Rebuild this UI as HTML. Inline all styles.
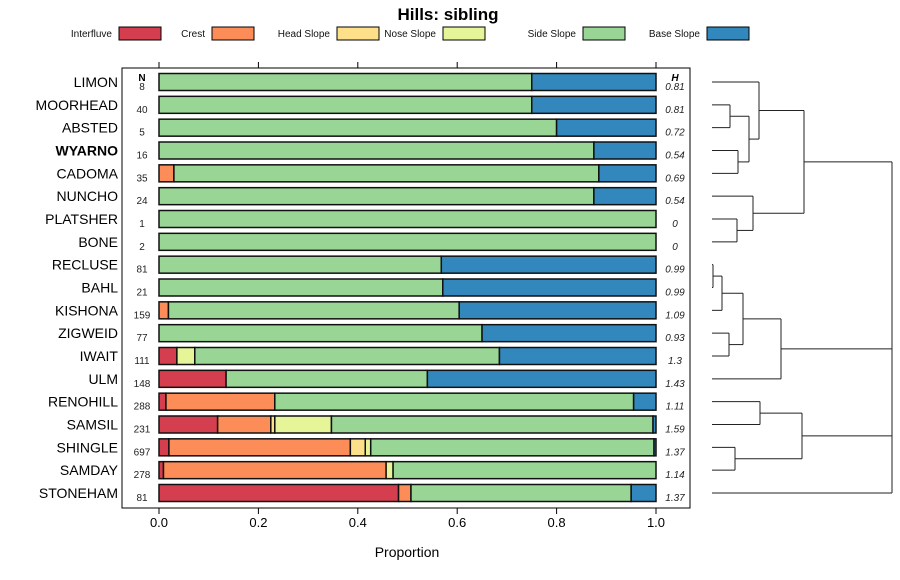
<!DOCTYPE html>
<html><head><meta charset="utf-8">
<style>
body{margin:0;background:#fff;}
svg{display:block;font-family:"Liberation Sans",sans-serif;}
</style></head>
<body>
<svg id="chart" width="900" height="580" viewBox="0 0 900 580">
<text x="448" y="20" text-anchor="middle" font-size="17" font-weight="bold">Hills: sibling</text>
<g id="legend"></g>
<rect x="122" y="68" width="568" height="440" fill="none" stroke="#000" stroke-width="1"/>
<g id="bars"></g>
<g id="axis"></g>
<g id="dendro"></g>
<text x="407" y="557" text-anchor="middle" font-size="14">Proportion</text>
<text x="142" y="81" text-anchor="middle" font-size="10" font-weight="bold">N</text>
<text x="675" y="81" text-anchor="middle" font-size="10" font-weight="bold" font-style="italic">H</text>
</svg>
<script>
const categories = ["LIMON","MOORHEAD","ABSTED","WYARNO","CADOMA","NUNCHO","PLATSHER","BONE","RECLUSE","BAHL","KISHONA","ZIGWEID","IWAIT","ULM","RENOHILL","SAMSIL","SHINGLE","SAMDAY","STONEHAM"];
const seriesNames = ["Interfluve","Crest","Head Slope","Nose Slope","Side Slope","Base Slope"];
const interfluve = [0,0,0,0,0,0,0,0,0,0,0,0,0.036,0.135,0.014,0.118,0.02,0.009,0.482];
const crest      = [0,0,0,0,0.03,0,0,0,0,0,0.019,0,0,0,0.219,0.107,0.365,0.448,0.025];
const headSlope  = [0,0,0,0,0,0,0,0,0,0,0,0,0,0,0,0.008,0.03,0,0];
const noseSlope  = [0,0,0,0,0,0,0,0,0,0,0,0,0.036,0,0,0.114,0.011,0.014,0];
const sideSlope  = [0.75,0.75,0.8,0.875,0.855,0.875,1,1,0.568,0.571,0.585,0.65,0.613,0.405,0.722,0.647,0.57,0.529,0.443];
const baseSlope  = [0.25,0.25,0.2,0.125,0.115,0.125,0,0,0.432,0.429,0.396,0.35,0.315,0.46,0.045,0.006,0.004,0,0.05];
const nValues = [8,40,5,16,35,24,1,2,81,21,159,77,111,148,288,231,697,278,81];
const hValues = ["0.81","0.81","0.72","0.54","0.69","0.54","0","0","0.99","0.99","1.09","0.93","1.3","1.43","1.11","1.59","1.37","1.14","1.37"];
const xTicks = [0,0.2,0.4,0.6,0.8,1];
const xTickLabels = ["0.0","0.2","0.4","0.6","0.8","1.0"];
const colors = ["#D53E4F","#FC8D59","#FEE08B","#E6F598","#99D594","#3288BD"];
const merges = [
 [1,2,730],[3,4,738],["n0","n1",749],[0,"n2",759],
 [6,7,737],[5,"n4",753],["n3","n5",804],
 [8,9,713],["n7",10,722],[11,12,729],["n8","n9",743],["n10",13,781],
 [14,15,760],[16,17,735],["n12","n13",802]
];
const rootChildren = ["n6","n11","n14",18];
const rootHeight = 892;

const NS="http://www.w3.org/2000/svg";
function mk(tag,attrs,parent,text){const e=document.createElementNS(NS,tag);for(const k in attrs)e.setAttribute(k,attrs[k]);if(text!==undefined)e.textContent=text;parent.appendChild(e);return e;}
const x0=159,x1=656;
const xs=v=>x0+v*(x1-x0);
const ys=i=>82+i*(493-82)/(categories.length-1);
const series=[interfluve,crest,headSlope,noseSlope,sideSlope,baseSlope];

const lg=document.getElementById('legend');
const legX=[119,212,337,443,583,707];
seriesNames.forEach((s,k)=>{
  const t=mk('text',{x:legX[k]-7,y:37,'text-anchor':'end','font-size':10,fill:'#111'},lg,s);
  
  
  const r=mk('rect',{x:legX[k],y:27,width:42,height:13,fill:colors[k],stroke:'#000','stroke-width':1},lg);
  
  
});

const bg=document.getElementById('bars');
categories.forEach((c,i)=>{
  const y=ys(i);
  const lab=mk('text',{x:118,y:y+5,'text-anchor':'end','font-size':14,'font-weight':c==='WYARNO'?'bold':'normal'},bg,c);
  
  
  const n=mk('text',{x:142,y:y+8,'text-anchor':'middle','font-size':10,fill:'#222'},bg,nValues[i]);
  
  
  const h=mk('text',{x:675,y:y+8,'text-anchor':'middle','font-size':10,'font-style':'italic',fill:'#222'},bg,hValues[i]);
  
  
  let cum=0;
  series.forEach((arr,k)=>{
    const v=arr[i];
    if(v>0){
      const r=mk('rect',{x:xs(cum),y:y-8.5,width:xs(cum+v)-xs(cum),height:17,fill:colors[k],stroke:'#111','stroke-width':1.5},bg);
      
      
    }
    cum+=v;
  });
});

const ax=document.getElementById('axis');
xTicks.forEach((t,k)=>{
  const x=xs(t);
  mk('line',{x1:x,x2:x,y1:508,y2:514,stroke:'#000'},ax);
  mk('line',{x1:x,x2:x,y1:62,y2:68,stroke:'#000'},ax);
  const tl=mk('text',{x:x,y:527,'text-anchor':'middle','font-size':13},ax,xTickLabels[k]);
  
  
});

const dg=document.getElementById('dendro');
const leafX=712;
const nodes={};
function pos(c){return typeof c==='number'?{x:leafX,y:ys(c)}:nodes[c];}
function seg(x1,y1,x2,y2){const l=mk('line',{x1,y1,x2,y2,stroke:'#222','stroke-width':1},dg);}
merges.forEach((m,k)=>{
  const a=pos(m[0]),b=pos(m[1]),h=m[2];
  seg(a.x,a.y,h,a.y);seg(b.x,b.y,h,b.y);seg(h,a.y,h,b.y);
  nodes['n'+k]={x:h,y:(a.y+b.y)/2};
});
const rp=rootChildren.map(pos);
rp.forEach(p=>seg(p.x,p.y,rootHeight,p.y));
seg(rootHeight,rp[0].y,rootHeight,rp[rp.length-1].y);
</script>
</body></html>
